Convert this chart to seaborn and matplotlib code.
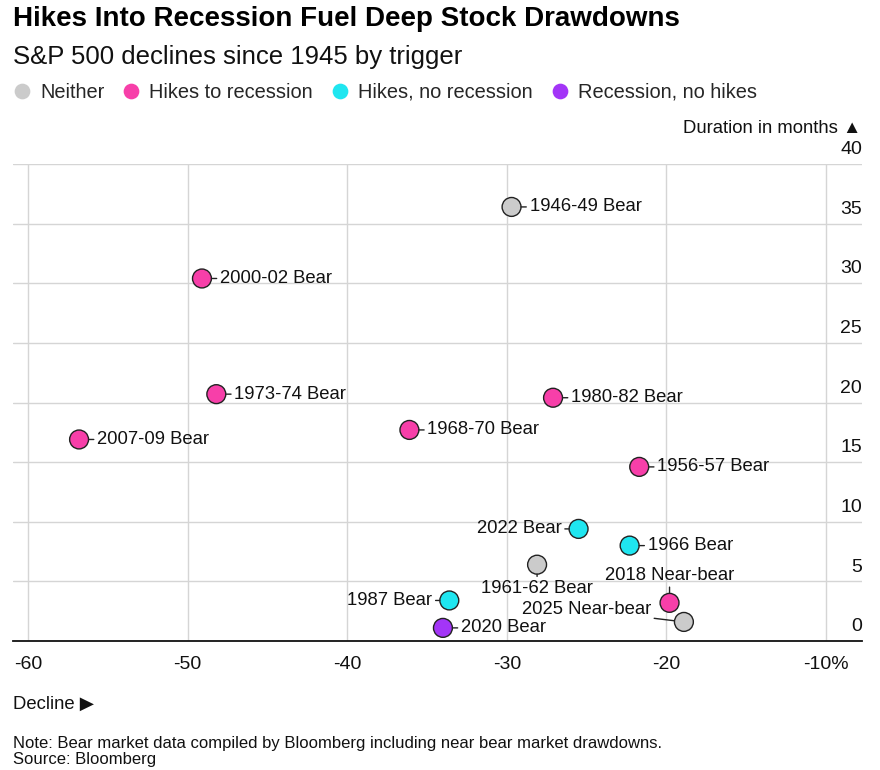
import matplotlib
matplotlib.use("Agg")
import matplotlib.pyplot as plt
from matplotlib.lines import Line2D
import pandas as pd
import seaborn as sns

sns.set_style("white")
plt.rcParams["font.family"] = ["Liberation Sans", "DejaVu Sans"]

# ==================================
# DATA
# ==================================
EVENTS = [
    "1946-49 Bear", "2000-02 Bear", "1973-74 Bear", "1980-82 Bear",
    "2007-09 Bear", "1968-70 Bear", "1956-57 Bear", "2022 Bear",
    "1966 Bear", "1961-62 Bear", "1987 Bear", "2020 Bear",
    "2018 Near-bear", "2025 Near-bear",
]
DECLINE = [-29.7, -49.1, -48.2, -27.1, -56.8, -36.1, -21.7, -25.5,
           -22.3, -28.1, -33.6, -34.0, -19.8, -18.9]
DURATION = [36.4, 30.4, 20.7, 20.4, 16.9, 17.7, 14.6, 9.4,
            8.0, 6.4, 3.4, 1.1, 3.2, 1.6]
TRIGGER = [
    "Neither", "Hikes to recession", "Hikes to recession", "Hikes to recession",
    "Hikes to recession", "Hikes to recession", "Hikes to recession",
    "Hikes, no recession", "Hikes, no recession", "Neither",
    "Hikes, no recession", "Recession, no hikes", "Hikes to recession",
    "Neither",
]

CATEGORIES = ["Neither", "Hikes to recession", "Hikes, no recession",
              "Recession, no hikes"]
COLORS = ["#cbcbcb", "#f73fa9", "#1fe6f0", "#a335f7"]

X_TICKS = [-60, -50, -40, -30, -20, -10]
X_LABELS = ["-60", "-50", "-40", "-30", "-20", "-10%"]
Y_TICKS = [0, 5, 10, 15, 20, 25, 30, 35, 40]

# label placement: (dx px, dy px, ha, va, relpos)
PX = 0.72
RIGHT = (18, 0, "left", "center", (0.01, 0.5))
LEFT = (-17, 0, "right", "center", (0.99, 0.5))
PLACEMENT = {
    "2022 Bear": LEFT,
    "1987 Bear": LEFT,
    "1961-62 Bear": (0, -15, "center", "top", (0.5, 0.95)),
    "2018 Near-bear": (0, 23, "center", "baseline", (0.5, 0.05)),
    "2025 Near-bear": (-33, 8, "right", "baseline", (1, 0)),
}

df = pd.DataFrame({
    "event": EVENTS,
    "decline": DECLINE,
    "duration": DURATION,
    "trigger": TRIGGER,
})

palette = dict(zip(CATEGORIES, COLORS))

# ==================================
# FIGURE
# ==================================
W, H = 880, 770
fig = plt.figure(figsize=(8.8, 7.7), dpi=100)
ax = fig.add_axes([13 / W, 1 - 641 / H, (862 - 13) / W, (641 - 164) / H])

sns.scatterplot(
    data=df,
    x="decline",
    y="duration",
    hue="trigger",
    palette=palette,
    s=185,
    edgecolor="#222222",
    linewidth=1.0,
    legend=False,
    zorder=3,
    clip_on=False,
    ax=ax,
)

for name, x, y in zip(EVENTS, DECLINE, DURATION):
    dx, dy, ha, va, rel = PLACEMENT.get(name, RIGHT)
    ax.annotate(
        name,
        xy=(x, y),
        xytext=(dx * PX, dy * PX),
        textcoords="offset points",
        ha=ha,
        va=va,
        fontsize=13.3,
        color="#111111",
        zorder=4,
        arrowprops=dict(
            arrowstyle="-",
            color="#222222",
            lw=1.0,
            shrinkA=0,
            shrinkB=6.9,
            relpos=rel,
        ),
    )

ax.set_xlim(-60.94, -7.74)
ax.set_ylim(0, 40)

ax.set_xticks(X_TICKS)
ax.set_xticklabels(X_LABELS)
ax.set_yticks(Y_TICKS)
ax.set_yticklabels([])
ax.tick_params(axis="x", length=0, pad=11, labelsize=14, colors="#111111")
ax.tick_params(axis="y", length=0)

for v in Y_TICKS:
    ax.text(1.0, v + 0.82, str(v), transform=ax.get_yaxis_transform(),
            ha="right", va="baseline", fontsize=14, color="#111111")

ax.grid(True, color="#d5d5d5", lw=1.0)
ax.set_axisbelow(True)
ax.set_xlabel("")
ax.set_ylabel("")
for side in ["top", "left", "right"]:
    ax.spines[side].set_visible(False)
ax.spines["bottom"].set_color("#111111")
ax.spines["bottom"].set_linewidth(1.3)

# ==================================
# TEXTS
# ==================================
fig.text(13 / W, 1 - 26.5 / H, "Hikes Into Recession Fuel Deep Stock Drawdowns",
         fontsize=20, fontweight="bold", va="baseline", color="#000000")
fig.text(13 / W, 1 - 64 / H, "S&P 500 declines since 1945 by trigger",
         fontsize=18.5, va="baseline", color="#111111")
fig.text(861 / W, 1 - 133 / H, "Duration in months \u25B2",
         fontsize=13.3, ha="right", va="baseline", color="#111111")
fig.text(13 / W, 1 - 709 / H, "Decline \u25B6",
         fontsize=13.3, va="baseline", color="#111111")
fig.text(13 / W, 1 - 748 / H,
         "Note: Bear market data compiled by Bloomberg including near bear market drawdowns.",
         fontsize=12, va="baseline", color="#111111")
fig.text(13 / W, 1 - 764 / H, "Source: Bloomberg",
         fontsize=12, va="baseline", color="#111111")

handles = [
    Line2D([], [], marker="o", linestyle="none", markersize=11.3,
           markerfacecolor=c, markeredgewidth=0)
    for c in COLORS
]
fig.legend(
    handles,
    CATEGORIES,
    loc="center left",
    bbox_to_anchor=(14 / W, 1 - 92 / H),
    ncol=4,
    frameon=False,
    fontsize=14.4,
    handlelength=0.8,
    handletextpad=0.5,
    columnspacing=0.95,
    borderpad=0,
    borderaxespad=0,
)

fig.savefig("out.png", dpi=100)
